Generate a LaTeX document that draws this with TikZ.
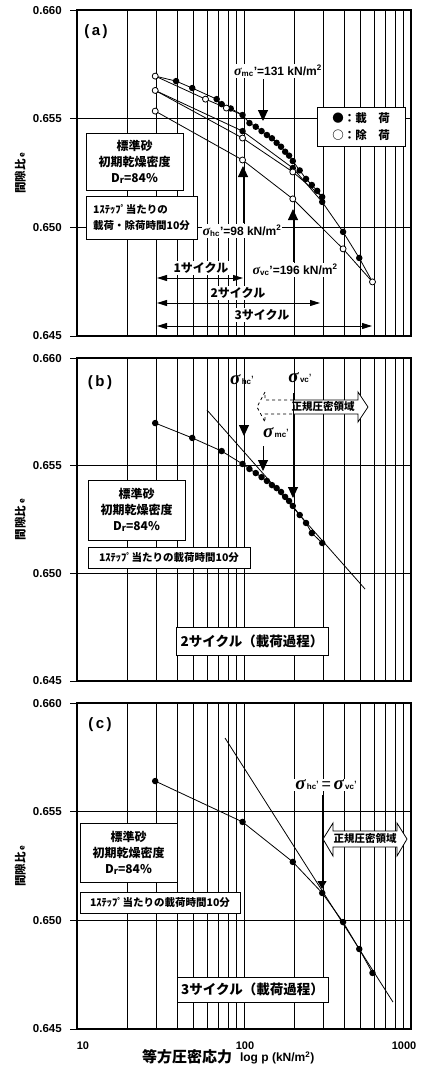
\documentclass[tikz,border=0pt]{standalone}
\usepackage{fontspec}
\setmainfont{Liberation Sans}
\newfontfamily\jp{Noto Sans CJK JP}
\newfontfamily\sigfont{Liberation Serif}
\usetikzlibrary{positioning,arrows.meta}

\tikzset{
  declare function={lp(\x)=log10(\x)-1;},
  axframe/.style={line width=1.8pt},
  gridline/.style={line width=0.5pt},
  dline/.style={line width=0.8pt},
  ld/.style={circle,fill=black,inner sep=0pt,minimum size=6.5pt},
  ul/.style={circle,draw=black,fill=white,line width=0.8pt,inner sep=0pt,minimum size=6pt},
  ticklab/.style={anchor=east,font=\bfseries\fontsize{11.5}{11.5}\selectfont},
  ylab/.style={rotate=90,font=\jp\bfseries\fontsize{11.5}{12}\selectfont},
  panellab/.style={font=\bfseries\fontsize{15}{15}\selectfont},
  infobox/.style={draw,line width=0.8pt,fill=white,align=center,inner sep=0pt,font=\jp\bfseries\fontsize{12}{16}\selectfont},
  notebox/.style={draw,line width=0.8pt,fill=white,align=left,inner sep=3pt,font=\jp\bfseries\fontsize{10.5}{15.5}\selectfont},
  stagebox/.style={draw,line width=0.8pt,fill=white,inner sep=0pt,font=\jp\bfseries\fontsize{13.5}{14}\selectfont},
  sigtext/.style={fill=white,inner sep=1pt,font=\bfseries\fontsize{12}{12}\selectfont},
  cyclab/.style={fill=white,inner sep=1pt,font=\jp\bfseries\fontsize{12}{12}\selectfont},
  cyc/.style={line width=0.9pt,{Triangle[length=10pt,width=6pt]}-{Triangle[length=10pt,width=6pt]}},
  sigarrow/.style={line width=0.9pt,-{Triangle[length=11pt,width=10pt]}},
  ncline/.style={line width=0.8pt},
  nclab/.style={font=\jp\bfseries\fontsize{10.5}{10.5}\selectfont},
  axlab/.style={font=\bfseries\fontsize{11}{11}\selectfont},
}

% frame, grid and e-axis of one panel (x = log p - 1, y = (e-0.645)*1000)
\newcommand{\panelaxes}{%
  \foreach \d in {0,1}
    \foreach \m in {2,...,9}
      \draw[gridline] ({\d+log10(\m)},0) -- ({\d+log10(\m)},15);
  \draw[gridline] (1,0) -- (1,15) (0,5) -- (2,5) (0,10) -- (2,10);
  \foreach \t/\v in {0/0.645,5/0.650,10/0.655,15/0.660}{
    \draw[gridline] (-0.04,\t) -- (0,\t);
    \node[ticklab] (tick\t) at (-0.07,\t) {\v};
  }
  \draw[axframe] (0,0) rectangle (2,15);
  \node[ylab] (ylab) at (-0.34,7.5) {間隙比\,{\fontsize{8}{8}\selectfont e}};
}
% polyline through p/t pairs
\newcommand{\dataline}[1]{%
  \foreach \pv/\ev [count=\i, remember=\pv as \lastp, remember=\ev as \laste] in {#1}{%
    \ifnum\i>1 \draw[dline] ({lp(\lastp)},\laste) -- ({lp(\pv)},\ev);\fi}}
% data marks
\newcommand{\datadots}[2]{%
  \foreach \pv/\ev in {#2} \node[#1] at ({lp(\pv)},\ev) {};}
\newcommand{\smallsig}{{\sigfont\bfseries\itshape\fontsize{14}{14}\selectfont σ}}
\newcommand{\bigsig}[1]{{\sigfont\bfseries\itshape\fontsize{19}{19}\selectfont σ}{\bfseries\fontsize{8}{8}\selectfont\,#1}{\fontsize{12}{12}\selectfont'}}

\begin{document}
\begin{tikzpicture}[x=1pt,y=-1pt]
\useasboundingbox (0,0) rectangle (438,1066);

%% (a) three cycles
\begin{scope}[shift={(77,336)},x=167pt,y=21.73pt]
\panelaxes
\dataline{29.4/11.96,39.2/11.73,49/11.41,68.6/10.90,73.5/10.67,83.3/10.47,98/10.17}
\dataline{98/10.17,78.4/10.49,58.8/10.90,29.4/11.96}
\dataline{98/10.17,107.8/9.80,117.6/9.63,127.4/9.43,137.2/9.25,147/9.10,156.8/8.89,166.6/8.71,176.4/8.48,186.2/8.30,196/8.05,215.6/7.62,235.2/7.23,254.8/6.95,274.4/6.68,294/6.40}
\dataline{294/6.40,196/7.55,98/9.11,29.4/11.30}
\dataline{29.4/11.30,98/9.43,196/7.73,294/6.17,392/4.79,490/3.59,588/2.49}
\dataline{588/2.49,392/4.01,196/6.31,98/8.10,29.4/10.35}
\datadots{ld}{39.2/11.73,49/11.41,68.6/10.90,73.5/10.67,83.3/10.47,98/10.17}
\datadots{ld}{107.8/9.80,117.6/9.63,127.4/9.43,137.2/9.25,147/9.10,156.8/8.89,166.6/8.71,176.4/8.48,186.2/8.30,196/8.05,215.6/7.62,235.2/7.23,254.8/6.95,274.4/6.68,294/6.40}
\datadots{ld}{98/9.43,196/7.73,294/6.17,392/4.79,490/3.59}
\datadots{ul}{78.4/10.49,58.8/10.90,29.4/11.96}
\datadots{ul}{196/7.55,98/9.11,29.4/11.30}
\datadots{ul}{588/2.49,392/4.01,196/6.31,98/8.10,29.4/10.35}
\end{scope}
\node[panellab] (taga) at (96,32) {(\,a\,)};
\node[sigtext] (smc) at (278,71) {\smallsig\textsubscript{mc}'=131 kN/m\textsuperscript{2}};
\coordinate (mcA) at (263,79); \coordinate (mcB) at (263,121);
\draw[sigarrow] (mcA) -- (mcB);
\node[sigtext] (shc) at (242,231) {\smallsig\textsubscript{hc}'=98 kN/m\textsuperscript{2}};
\coordinate (hcA) at (243,223); \coordinate (hcB) at (243,166);
\draw[sigarrow] (hcA) -- (hcB);
\node[sigtext] (svc) at (295,270) {\smallsig\textsubscript{vc}'=196 kN/m\textsuperscript{2}};
\coordinate (vcA) at (293,262); \coordinate (vcB) at (293,209);
\draw[sigarrow] (vcA) -- (vcB);
\node[draw,line width=0.8pt,fill=white,align=left,minimum width=88pt,minimum height=39pt,font=\jp\bfseries\fontsize{11.5}{17}\selectfont] (lega) at (361,126.5) {●：載　荷\\○：除　荷};
\node[infobox,minimum width=97pt,minimum height=57pt] (boxa) at (134.5,161.5) {標準砂\\初期乾燥密度\\D\raisebox{-0.1em}{\fontsize{9}{9}\selectfont r}=84\%};
\node[notebox,minimum width=111pt,minimum height=43pt] (notea) at (141.5,217.5) {1ｽﾃｯﾌﾟ当たりの\\載荷・除荷時間10分};
\coordinate (c1L) at (157,278); \coordinate (c1R) at (243,278);
\coordinate (c2L) at (157,303); \coordinate (c2R) at (320,303);
\coordinate (c3L) at (157,326); \coordinate (c3R) at (372,326);
\draw[cyc] (c1L) -- (c1R);
\draw[cyc] (c2L) -- (c2R);
\draw[cyc] (c3L) -- (c3R);
\node[cyclab] (cy1) at (201,268) {1サイクル};
\node[cyclab] (cy2) at (238,293) {2サイクル};
\node[cyclab] (cy3) at (262,315) {3サイクル};

%% (b) second cycle, loading
\begin{scope}[shift={(77,681)},x=167pt,y=21.53pt]
\panelaxes
\dataline{29.4/11.98,49/11.29,73.5/10.68,98/10.08,107.8/9.85,117.6/9.66,127.4/9.47,137.2/9.29,147/9.10,156.8/8.96,166.6/8.78,176.4/8.55,186.2/8.36,196/8.13,215.6/7.71,235.2/7.34,254.8/6.87,294/6.41}
\draw[dline] ({lp(60)},12.59) -- ({lp(531)},4.27);
\datadots{ld}{29.4/11.98,49/11.29,73.5/10.68,98/10.08,107.8/9.85,117.6/9.66,127.4/9.47,137.2/9.29,147/9.10,156.8/8.96,166.6/8.78,176.4/8.55,186.2/8.36,196/8.13,215.6/7.71,235.2/7.34,254.8/6.87,294/6.41}
\end{scope}
\node[panellab] (tagb) at (100,383) {(\,b\,)};
% normally consolidated range
\fill[white] (257,407) -- (265,392) -- (265,400) -- (358,400) -- (358,392) -- (368,407) -- (358,422) -- (358,414) -- (265,414) -- (265,422) -- cycle;
\draw[ncline] (293,400) -- (358,400) -- (358,392) -- (368,407) -- (358,422) -- (358,414) -- (293,414);
\draw[ncline,dashed] (293,400) -- (265,400) -- (265,392) -- (257,407) -- (265,422) -- (265,414) -- (293,414);
\node[nclab] (ncb) at (323,407) {正規圧密領域};
\node[inner sep=0pt] (shcb) at (242,380) {\bigsig{hc}};
\node[inner sep=0pt] (svcb) at (300,378) {\bigsig{vc}};
\node[inner sep=0pt] (smcb) at (276,433) {\bigsig{mc}};
\coordinate (hcbA) at (244,394); \coordinate (hcbB) at (244,436);
\coordinate (vcbA) at (293,393); \coordinate (vcbB) at (293,498);
\coordinate (mcbA) at (263,446); \coordinate (mcbB) at (263,471);
\draw[sigarrow] (hcbA) -- (hcbB);
\draw[sigarrow] (vcbA) -- (vcbB);
\draw[sigarrow] (mcbA) -- (mcbB);
\node[infobox,minimum width=97pt,minimum height=60pt] (boxb) at (136.5,510) {標準砂\\初期乾燥密度\\D\raisebox{-0.1em}{\fontsize{9}{9}\selectfont r}=84\%};
\node[notebox,minimum width=162pt,minimum height=21pt,inner sep=0pt] (noteb) at (169,557.5) {1ｽﾃｯﾌﾟ当たりの載荷時間10分};
\node[stagebox,minimum width=152pt,minimum height=28pt] (stageb) at (252,641) {2サイクル（載荷過程）};

%% (c) third cycle, loading
\begin{scope}[shift={(77,1029)},x=167pt,y=21.73pt]
\panelaxes
\dataline{29.4/11.41,98/9.53,196/7.69,294/6.26,392/4.92,490/3.68,588/2.58}
\draw[dline] ({lp(77)},13.39) -- ({lp(780)},1.24);
\datadots{ld}{29.4/11.41,98/9.53,196/7.69,294/6.26,392/4.92,490/3.68,588/2.58}
\end{scope}
\node[panellab] (tagc) at (100,725) {(\,c\,)};
\node[fill=white,inner sep=1pt] (seq) at (326,785) {\bigsig{hc}{\fontsize{16}{16}\selectfont\,=\,}\bigsig{vc}};
\coordinate (eqA) at (322,795); \coordinate (eqB) at (322,889);
\draw[line width=0.9pt,-{Triangle[length=8pt,width=9pt]}] (eqA) -- (eqB);
\draw[ncline,fill=white] (323,839) -- (333,823) -- (333,831) -- (397,831) -- (397,823) -- (407,839) -- (397,856) -- (397,847) -- (333,847) -- (333,856) -- cycle;
\node[nclab] (ncc) at (365,839) {正規圧密領域};
\node[infobox,minimum width=97pt,minimum height=59pt] (boxc) at (128.5,852.5) {標準砂\\初期乾燥密度\\D\raisebox{-0.1em}{\fontsize{9}{9}\selectfont r}=84\%};
\node[notebox,minimum width=160pt,minimum height=21pt,inner sep=0pt] (notec) at (160,902.5) {1ｽﾃｯﾌﾟ当たりの載荷時間10分};
\node[stagebox,minimum width=151pt,minimum height=25pt] (stagec) at (252.5,989.5) {3サイクル（載荷過程）};

%% p axis
\node[axlab] (x10) at (83,1046) {10};
\node[axlab] (x100) at (245,1046) {100};
\node[axlab] (x1000) at (404,1046) {1000};
\node[font=\jp\bfseries\fontsize{15}{15}\selectfont] (xt1) at (187,1057) {等方圧密応力};
\node[right=1pt of xt1,yshift=-1pt,font=\bfseries\fontsize{12}{12}\selectfont] (xt2) {log p (kN/m\textsuperscript{2})};
\end{tikzpicture}
\end{document}
